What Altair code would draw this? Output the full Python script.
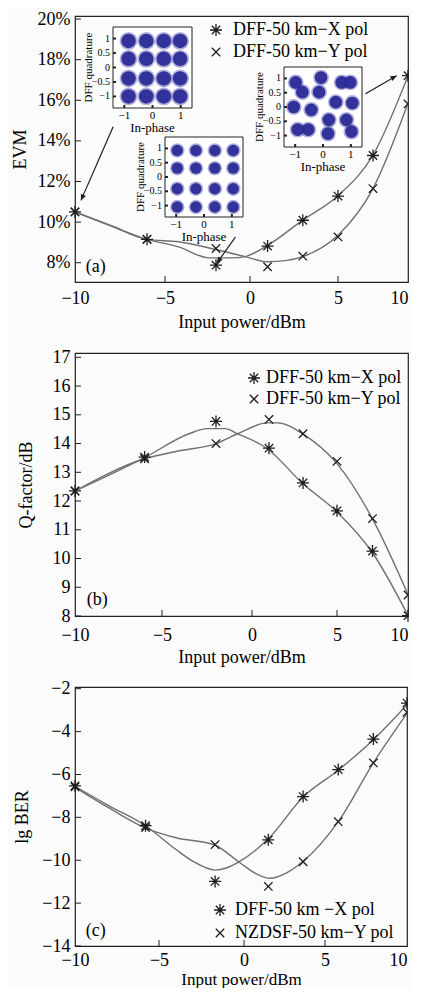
import altair as alt
import pandas as pd

FONT = "Liberation Serif"
AST = "M-1,0L1,0M0,-1L0,1M-0.7,-0.7L0.7,0.7M-0.7,0.7L0.7,-0.7"
CRS = "M-0.7,-0.7L0.7,0.7M-0.7,0.7L0.7,-0.7"
HALF_AST = "M-1,0L0,0M0,-1L0,1M-0.7,-0.7L0,0M-0.7,0.7L0,0"
HALF_CRS = "M-0.7,-0.7L0,0M-0.7,0.7L0,0"
TICK_UP = "M0,0L0,-1"
TICK_RIGHT = "M0,0L1,0"
HEAD = "M0,0L-0.45,1L0.45,1Z"
LINE_C = "#707070"
MARK_C = "#1e1e1e"
DOT_C = "#2b2b96"
HALO_C = "#5050b4"

# ---------------- panel (a): EVM ----------------
a_pw = [-10, -6, -2, 1, 3, 5, 7.5, 10]
a_x = [10.5, 9.15, 7.88, 8.82, 10.09, 11.28, 13.28, 17.21]
a_y = [10.5, 9.15, 8.7, 7.8, 8.32, 9.27, 11.65, 15.82]
a_fx_pw = [-10, -8, -6, -4.2, -2.4, -1, -0.3, 1, 3, 5, 7.5, 10]
a_fx_v = [10.5, 9.82, 9.15, 8.78, 8.24, 8.24, 8.3, 8.85, 10.1, 11.3, 13.3, 17.2]
a_fy_pw = [-10, -8, -6, -4.2, -2, -0.3, 1, 2, 3, 5, 7.5, 10]
a_fy_v = [10.5, 9.82, 9.15, 9.03, 8.65, 8.3, 8.05, 8.1, 8.3, 9.35, 11.65, 15.85]
a_labels = ["DFF-50 km\u2212X pol", "DFF-50 km\u2212Y pol"]
a_yticks = [8, 10, 12, 14, 16, 18, 20]

# arrows (a): from inset to data points
arr_pw = [-7.88, -0.86, 6.96]
arr_v = [14.70, 9.26, 16.32]
arr_pw2 = [-9.67, -1.95, 9.19]
arr_v2 = [11.07, 7.98, 17.21]
arr_angle = [204, 216, 61]

# constellation insets (a)
in1_i = [-0.85, -0.22, 0.4, 0.98] * 4
in1_q = [0.92] * 4 + [0.3] * 4 + [-0.38] * 4 + [-1.0] * 4
in2_i = [-0.96, -0.29, 0.39, 1.05] * 4
in2_q = [0.93] * 4 + [0.31] * 4 + [-0.41] * 4 + [-1.05] * 4
in3_i = [-0.98, -0.07, 0.67, 0.98, -0.74, -0.14, -1.05, -0.42,
         0.46, 1.05, 0.21, 0.84, -0.91, -0.53, 0.18, 1.02]
in3_q = [0.86, 1.03, 0.86, 0.86, 0.52, 0.52, 0.0, -0.10,
         0.17, 0.14, -0.45, -0.45, -0.79, -0.79, -0.93, -0.86]

# ---------------- panel (b): Q-factor ----------------
b_pw = [-10, -6, -2, 1, 3, 5, 7.5, 10]
b_x = [12.35, 13.53, 14.77, 13.84, 12.63, 11.66, 10.26, 8.01]
b_y = [12.35, 13.47, 14.0, 14.84, 14.34, 13.38, 11.39, 8.73]
b_fx_pw = [-10, -6, -3.5, -2.5, -1.5, -0.8, 0.9, 3, 5, 7.5, 10]
b_fx_v = [12.35, 13.51, 14.34, 14.52, 14.52, 14.34, 13.82, 12.6, 11.62, 10.2, 8.02]
b_fy_pw = [-10, -6, -4.1, -2, -0.8, 0.9, 1.5, 3, 5, 7.5, 10]
b_fy_v = [12.35, 13.47, 13.74, 14.0, 14.34, 14.72, 14.72, 14.33, 13.3, 11.38, 8.75]
b_labels = ["DFF-50 km\u2212X pol", "DFF-50 km\u2212Y pol"]
b_yticks = [8, 9, 10, 11, 12, 13, 14, 15, 16, 17]

# ---------------- panel (c): lg BER ----------------
c_pw = [-10, -5.8, -1.7, 1.5, 3.65, 5.85, 8.1, 10.25]
c_x = [-6.53, -8.39, -10.99, -9.05, -7.03, -5.77, -4.35, -2.67]
c_y = [-6.58, -8.48, -9.27, -11.22, -10.07, -8.2, -5.46, -3.1]
c_fx_pw = [-10, -8, -5.8, -4, -3, -1.7, -1, -0.3, 1.5, 3.65, 5.85, 8.1, 10.25]
c_fx_v = [-6.55, -7.45, -8.39, -9.5, -10.05, -10.46, -10.35, -10.08, -9.0, -7.05, -5.8, -4.38, -2.75]
c_fy_pw = [-10, -8, -5.8, -4, -1.7, -0.3, 0.8, 1.6, 2.6, 3.65, 5.85, 8.1, 10.25]
c_fy_v = [-6.6, -7.55, -8.5, -8.95, -9.3, -10.08, -10.65, -10.84, -10.6, -10.05, -8.2, -5.46, -3.15]
c_labels = ["DFF-50 km \u2212X pol", "NZDSF-50 km\u2212Y pol"]
c_yticks = [-14, -12, -10, -8, -6, -4, -2]

x_ticks = [-10, -5, 0, 5, 10]


def main_layer(pw, vx, vy, fxp, fxv, fyp, fyv, labels, xdom, xrng, ydom, yvals,
               ylabexpr, ytitle, ytpad, leg, tag, tagpos, last_off, xlpad=7, xtpad=6,
               xtsize=18, arrows=False):
    xs = alt.Scale(domain=xdom, range=xrng, nice=False, zero=False)
    ys = alt.Scale(domain=ydom, nice=False, zero=False)
    xenc = alt.X("pw:Q", scale=xs,
                 axis=alt.Axis(values=x_ticks, title="Input power/dBm", labelPadding=xlpad,
                               titlePadding=xtpad, titleFontSize=xtsize,
                               labelFlush=False, labelOverlap=False,
                               labelAlign={"condition": {"test": "datum.value >= 10", "value": "right"},
                                           "value": "center"},
                               labelOffset={"condition": {"test": "datum.value >= 10", "value": last_off},
                                            "value": 0}))
    yenc = alt.Y("val:Q", scale=ys,
                 axis=alt.Axis(values=yvals, labelExpr=ylabexpr, title=ytitle, labelPadding=5,
                               titlePadding=ytpad, labelFlush=False, labelOverlap=False))
    n = len(pw) - 1
    mdf = pd.DataFrame({"pw": pw[:n] + pw[:n], "val": vx[:n] + vy[:n],
                        "series": [labels[0]] * n + [labels[1]] * n})
    cdf = pd.DataFrame({"pw": fxp + fyp, "val": fxv + fyv,
                        "series": [labels[0]] * len(fxp) + [labels[1]] * len(fyp)})
    shape = alt.Shape("series:N", scale=alt.Scale(domain=labels, range=[AST, CRS]),
                      legend=alt.Legend(title=None, orient="none", legendX=leg[0], legendY=leg[1],
                                        labelFont=FONT, labelFontSize=18, labelLimit=400,
                                        labelColor="black", symbolSize=144,
                                        symbolStrokeColor=MARK_C, symbolStrokeWidth=1.3,
                                        symbolFillColor="transparent", rowPadding=leg[3],
                                        labelOffset=leg[2], padding=0))
    lines = alt.Chart(cdf).mark_line(color=LINE_C, strokeWidth=1.4, interpolate="monotone",
                                     clip=True).encode(x=xenc, y=yenc, detail="series:N")
    marks = alt.Chart(mdf).mark_point(
        filled=False, color=MARK_C, strokeWidth=1.3, size=144, opacity=1).encode(
        x=xenc, y=yenc, shape=shape)
    # last markers sit on the right frame, where the figure is cut: only their left half shows
    ex = alt.Chart(pd.DataFrame({"pw": [pw[n]], "val": [vx[n]]})).mark_point(
        shape=HALF_AST, filled=False, color=MARK_C, strokeWidth=1.3, size=144, opacity=1).encode(
        x=xenc, y=yenc)
    ey = alt.Chart(pd.DataFrame({"pw": [pw[n]], "val": [vy[n]]})).mark_point(
        shape=HALF_CRS, filled=False, color=MARK_C, strokeWidth=1.3, size=144, opacity=1).encode(
        x=xenc, y=yenc)
    xt = alt.Chart(pd.DataFrame({"pw": x_ticks[1:-1], "val": [ydom[0]] * 3})).mark_point(
        shape=TICK_UP, size=144, color=MARK_C, strokeWidth=1, opacity=1).encode(x=xenc, y=yenc)
    yt = alt.Chart(pd.DataFrame({"pw": [xdom[0]] * len(yvals), "val": yvals})).mark_point(
        shape=TICK_RIGHT, size=144, color=MARK_C, strokeWidth=1, opacity=1).encode(x=xenc, y=yenc)
    tg = alt.Chart(pd.DataFrame({"pw": [tagpos[0]], "val": [tagpos[1]], "t": [tag]})).mark_text(
        font=FONT, fontSize=18, align="left", baseline="middle", color="black").encode(
        x=xenc, y=yenc, text="t:N")
    layers = [lines, marks, ex, ey, xt, yt, tg]
    if arrows:
        adf = pd.DataFrame({"pw": arr_pw, "val": arr_v, "pw2": arr_pw2, "val2": arr_v2})
        layers.append(alt.Chart(adf).mark_rule(color=MARK_C, strokeWidth=1.2).encode(
            x=xenc, y=yenc, x2="pw2:Q", y2="val2:Q"))
        for k in range(3):
            hdf = pd.DataFrame({"pw": [arr_pw2[k]], "val": [arr_v2[k]]})
            layers.append(alt.Chart(hdf).mark_point(shape=HEAD, size=150, filled=True, color=MARK_C,
                                                    opacity=1, angle=arr_angle[k]).encode(x=xenc, y=yenc))
    return alt.layer(*layers)


def inset(ci, cq, xr, yr, dot, halo):
    xs = alt.Scale(domain=[-1.4, 1.4], range=xr, nice=False, zero=False)
    ys = alt.Scale(domain=[-1.4, 1.4], range=yr, nice=False, zero=False)
    X = alt.X("i:Q", scale=xs, axis=None)
    Y = alt.Y("q:Q", scale=ys, axis=None)
    fr = alt.Chart(pd.DataFrame({"i": [-1.4], "q": [-1.4], "i2": [1.4], "q2": [1.4]})).mark_rect(
        fill="white", stroke="#222", strokeWidth=1).encode(x=X, y=Y, x2="i2:Q", y2="q2:Q")
    ddf = pd.DataFrame({"i": ci, "q": cq})
    h = alt.Chart(ddf).mark_circle(size=halo, color=HALO_C, opacity=0.45).encode(x=X, y=Y)
    d = alt.Chart(ddf).mark_circle(size=dot, color=DOT_C, opacity=0.95).encode(x=X, y=Y)
    xl = alt.Chart(pd.DataFrame({"i": [-1, 0, 1], "q": [-1.4] * 3, "t": ["\u22121", "0", "1"]})).mark_text(
        font=FONT, fontSize=11, dy=8, baseline="middle", color="black").encode(x=X, y=Y, text="t:N")
    yl = alt.Chart(pd.DataFrame({"i": [-1.4] * 5, "q": [1, 0.5, 0, -0.5, -1],
                                 "t": ["1", "0.5", "0", "\u22120.5", "\u22121"]})).mark_text(
        font=FONT, fontSize=10, dx=-3, align="right", baseline="middle", color="black").encode(
        x=X, y=Y, text="t:N")
    xk = alt.Chart(pd.DataFrame({"i": [-1, 0, 1], "q": [-1.4] * 3})).mark_point(
        shape=TICK_UP, size=36, color="#222", opacity=1).encode(x=X, y=Y)
    yk = alt.Chart(pd.DataFrame({"i": [-1.4] * 5, "q": [1, 0.5, 0, -0.5, -1]})).mark_point(
        shape=TICK_RIGHT, size=36, color="#222", opacity=1).encode(x=X, y=Y)
    tx = alt.Chart(pd.DataFrame({"i": [0], "q": [-1.4], "t": ["In-phase"]})).mark_text(
        font=FONT, fontSize=13, dy=20, baseline="middle", color="black").encode(x=X, y=Y, text="t:N")
    ty = alt.Chart(pd.DataFrame({"i": [-2.25], "q": [0], "t": ["DFF quadrature"]})).mark_text(
        font=FONT, fontSize=11, angle=270, baseline="middle", color="black").encode(
        x=X, y=Y, text="t:N")
    return alt.layer(fr, h, d, xl, yl, xk, yk, tx, ty)


pa_main = main_layer(a_pw, a_x, a_y, a_fx_pw, a_fx_v, a_fy_pw, a_fy_v, a_labels,
                     x_ticks, [0, 90, 175, 263, 333], [7.05, 20.15], a_yticks,
                     "datum.value + '%'", "EVM", 8, (132, 5, 8, 4), "(a)", (-9.4, 7.8), 0,
                     arrows=True)
pa = alt.layer(
    pa_main,
    inset(in1_i, in1_q, [38, 117], [92, 11], 210, 320),
    inset(in2_i, in2_q, [90, 168], [201, 121], 130, 210),
    inset(in3_i, in3_q, [209, 287], [131, 51], 160, 250),
).resolve_scale(x="independent", y="independent").properties(width=333, height=266)

pb = main_layer(b_pw, b_x, b_y, b_fx_pw, b_fx_v, b_fy_pw, b_fy_v, b_labels,
                x_ticks, [0, 87, 177, 262, 333], [8, 17.15], b_yticks,
                "datum.label", "Q-factor/dB", 17, (170, 16, 3, 3), "(b)", (-9.33, 8.56), 0,
                xlpad=10, xtpad=4
                ).properties(width=333, height=263)

pc = main_layer(c_pw, c_x, c_y, c_fx_pw, c_fx_v, c_fy_pw, c_fy_v, c_labels,
                x_ticks + [10.25], [0, 84, 169, 250, 328, 332], [-14, -1.92], c_yticks,
                "datum.label", "lg BER", 10, (136, 214, 6, 5), "(c)", (-9.36, -13.31), 4,
                xlpad=5, xtpad=2, xtsize=17
                ).properties(width=332, height=259)

chart = alt.vconcat(pa, pb, pc, spacing=71, bounds="flush").resolve_scale(
    shape="independent").resolve_legend(shape="independent").properties(
    padding={"left": 2, "top": 1, "right": 0, "bottom": 0}, background="#fbfbfb"
).configure_axis(
    labelFont=FONT, titleFont=FONT, labelFontSize=18, titleFontSize=18, titleFontWeight="normal",
    labelColor="black", titleColor="black", grid=False, ticks=False, domain=False
).configure_view(stroke="#222", strokeWidth=1.2).configure_text(font=FONT)

chart.save("out.html", embed_options={"renderer": "svg", "actions": False})
